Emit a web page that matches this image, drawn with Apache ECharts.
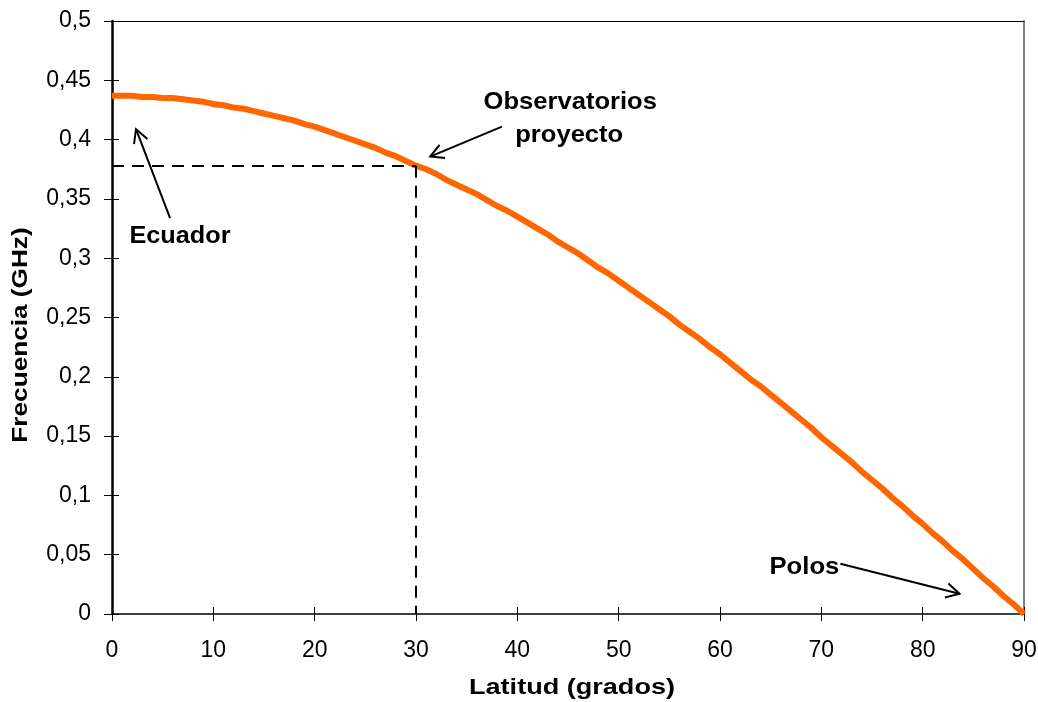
<!DOCTYPE html>
<html>
<head>
<meta charset="utf-8">
<script src="https://cdn.jsdelivr.net/npm/echarts@6/dist/echarts.min.js"></script>
<style>
  html, body { margin: 0; padding: 0; background: #fff; }
  #chart { width: 1038px; height: 702px; }
</style>
</head>
<body>
<div id="chart"></div>
<script>
// Latitude in degrees and the corresponding frequency in GHz
const latitudes = [
  0, 1, 2, 3, 4, 5, 6, 7, 8, 9,
  10, 11, 12, 13, 14, 15, 16, 17, 18, 19,
  20, 21, 22, 23, 24, 25, 26, 27, 28, 29,
  30, 31, 32, 33, 34, 35, 36, 37, 38, 39,
  40, 41, 42, 43, 44, 45, 46, 47, 48, 49,
  50, 51, 52, 53, 54, 55, 56, 57, 58, 59,
  60, 61, 62, 63, 64, 65, 66, 67, 68, 69,
  70, 71, 72, 73, 74, 75, 76, 77, 78, 79,
  80, 81, 82, 83, 84, 85, 86, 87, 88, 89, 90
];
const frequencies = [
  0.437, 0.437, 0.437, 0.436, 0.436, 0.435, 0.435, 0.434, 0.433, 0.432,
  0.430, 0.429, 0.427, 0.426, 0.424, 0.422, 0.420, 0.418, 0.416, 0.413,
  0.411, 0.408, 0.405, 0.402, 0.399, 0.396, 0.393, 0.389, 0.386, 0.382,
  0.378, 0.375, 0.371, 0.366, 0.362, 0.358, 0.354, 0.349, 0.344, 0.340,
  0.335, 0.330, 0.325, 0.320, 0.314, 0.309, 0.304, 0.298, 0.292, 0.287,
  0.281, 0.275, 0.269, 0.263, 0.257, 0.251, 0.244, 0.238, 0.232, 0.225,
  0.219, 0.212, 0.205, 0.198, 0.192, 0.185, 0.178, 0.171, 0.164, 0.157,
  0.149, 0.142, 0.135, 0.128, 0.120, 0.113, 0.106, 0.098, 0.091, 0.083,
  0.076, 0.068, 0.061, 0.053, 0.046, 0.038, 0.030, 0.023, 0.015, 0.008, 0
];

// Reference point for the project observatories
const projectLatitude = 30;
const projectFrequency = 0.378;

// Axis titles
const xTitle = 'Latitud (grados)';
const yTitle = 'Frecuencia (GHz)';

// Callouts: text lines with their anchors, and arrow from/to (data coordinates)
const callouts = [
  { lines: ['Ecuador'], at: [[6.71, 0.3179]], size: 23, stretch: 1.1,
    from: [5.73, 0.3337], to: [2.37, 0.4088] },
  { lines: ['Observatorios', 'proyecto'], at: [[45.22, 0.4310], [45.12, 0.4034]], size: 24, stretch: 1.065,
    from: [38.48, 0.4110], to: [31.40, 0.3857] },
  { lines: ['Polos'], at: [[68.33, 0.0396]], size: 24, stretch: 1.07,
    from: [71.88, 0.0424], to: [83.63, 0.0171] }
];

const font = '"Liberation Sans", Arial, sans-serif';
const fmt = v => String(+v.toFixed(2)).replace('.', ',');

const chart = echarts.init(document.getElementById('chart'));

const hiddenAxis = {
  axisLine: { show: false }, axisTick: { show: false },
  axisLabel: { show: false }, splitLine: { show: false }
};

chart.setOption({
  animation: false,
  backgroundColor: '#ffffff',
  grid: { left: 112, right: 14, top: 21, bottom: 88, outerBoundsMode: 'none' },
  xAxis: [{
    type: 'value', min: 0, max: 90, interval: 10, position: 'bottom',
    axisLine: { show: true, onZero: false, lineStyle: { color: '#000', width: 1.5 } },
    axisTick: { show: true, length: 7, lineStyle: { color: '#000', width: 1 } },
    axisLabel: { fontFamily: font, fontSize: 23, color: '#000', margin: 25 },
    splitLine: { show: false }
  }, {
    // inner half of the crossing tick marks
    type: 'value', min: 0, max: 90, interval: 10, position: 'bottom',
    ...hiddenAxis,
    axisLine: { show: false, onZero: false },
    axisTick: { show: true, inside: true, length: 7, lineStyle: { color: '#000', width: 1 } }
  }, {
    // top frame line
    type: 'value', min: 0, max: 90, interval: 10, position: 'top',
    ...hiddenAxis,
    axisLine: { show: true, onZero: false, lineStyle: { color: '#000', width: 1 } }
  }],
  yAxis: [{
    type: 'value', min: 0, max: 0.5, interval: 0.05, position: 'left',
    axisLine: { show: true, onZero: false, lineStyle: { color: '#000', width: 2.5 } },
    axisTick: { show: true, length: 8, lineStyle: { color: '#000', width: 1 } },
    axisLabel: { fontFamily: font, fontSize: 23, color: '#000', margin: 21, formatter: fmt },
    splitLine: { show: false }
  }, {
    type: 'value', min: 0, max: 0.5, interval: 0.05, position: 'left',
    ...hiddenAxis,
    axisLine: { show: false, onZero: false },
    axisTick: { show: true, inside: true, length: 7, lineStyle: { color: '#000', width: 1 } }
  }, {
    // right frame line
    type: 'value', min: 0, max: 0.5, interval: 0.05, position: 'right',
    ...hiddenAxis,
    axisLine: { show: true, onZero: false, lineStyle: { color: '#808080', width: 2 } }
  }],
  series: [{
    type: 'line',
    xAxisIndex: 0, yAxisIndex: 0,
    data: latitudes.map((x, i) => [x, frequencies[i]]),
    showSymbol: false,
    lineStyle: { color: '#ff6600', width: 6 },
    z: 3,
    markLine: {
      silent: true,
      symbol: 'none',
      label: { show: false },
      lineStyle: { color: '#000', type: [12, 8], width: 2 },
      data: [
        [{ coord: [0, projectFrequency] }, { coord: [projectLatitude, projectFrequency] }],
        [{ coord: [projectLatitude, projectFrequency] }, { coord: [projectLatitude, 0] }]
      ]
    }
  }]
});

// Open arrowheads for the callouts
function arrowElements(p0, p1) {
  const ang = Math.atan2(p1[1] - p0[1], p1[0] - p0[0]);
  const len = 15, spread = 0.5;
  const a1 = [p1[0] - len * Math.cos(ang - spread), p1[1] - len * Math.sin(ang - spread)];
  const a2 = [p1[0] - len * Math.cos(ang + spread), p1[1] - len * Math.sin(ang + spread)];
  const style = { stroke: '#000', lineWidth: 2, fill: null };
  return [
    { type: 'line', shape: { x1: p0[0], y1: p0[1], x2: p1[0], y2: p1[1] }, style, z: 10 },
    { type: 'polyline', shape: { points: [a1, p1, a2] }, style, z: 10 }
  ];
}

const toPx = c => chart.convertToPixel({ xAxisIndex: 0, yAxisIndex: 0 }, c);
const elements = [];
callouts.forEach(c => {
  elements.push(...arrowElements(toPx(c.from), toPx(c.to)));
  c.lines.forEach((line, i) => {
    const p = toPx(c.at[i]);
    elements.push({
      type: 'text', x: p[0], y: p[1], scaleX: c.stretch, z: 10,
      style: { text: line, fill: '#000', font: 'bold ' + c.size + 'px ' + font,
               align: 'center', verticalAlign: 'middle' }
    });
  });
});

// Axis titles, centred on the plot area
const x0 = toPx([0, 0]), x1 = toPx([90, 0.5]);
elements.push({
  type: 'text', x: (x0[0] + x1[0]) / 2 + 4, y: 688, scaleX: 1.23, z: 10,
  style: { text: xTitle, fill: '#000', font: 'bold 22px ' + font, align: 'center', verticalAlign: 'middle' }
});
elements.push({
  type: 'text', x: 21, y: 335, rotation: Math.PI / 2, scaleX: 1.19, z: 10,
  style: { text: yTitle, fill: '#000', font: 'bold 22px ' + font, align: 'center', verticalAlign: 'middle' }
});

chart.setOption({ graphic: elements });
</script>
</body>
</html>
